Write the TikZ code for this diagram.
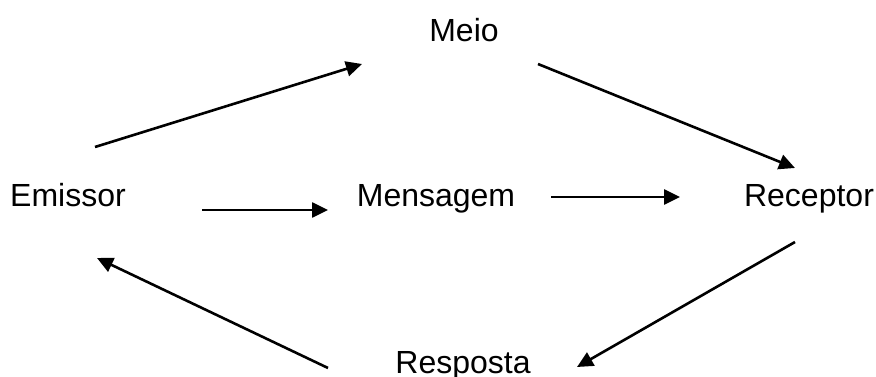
\documentclass[tikz,border=0pt]{standalone}
\usepackage{fontspec}
\setmainfont{Liberation Sans}
\usetikzlibrary{arrows.meta}
\begin{document}
\begin{tikzpicture}[x=1pt,y=-1pt,line join = round,>={Triangle[length=16pt,width=15pt]},font=\fontsize{32}{38}\selectfont,
		word/.style={inner sep=0pt,text height=23pt,text depth=7pt,anchor=base},
		arr/.style={->,line width=2.6pt}]
			\useasboundingbox (0,0) rectangle (876,377);
			\node[word] (meio) at (464,42) {Meio};
			\node[word] (emissor) at (68,207) {Emissor};
			\node[word] (mensagem) at (436,207) {Mensagem};
			\node[word] (receptor) at (809,207) {Receptor};
			\node[word] (resposta) at (463,373) {Resposta};
			\draw[arr] ([shift={(27,-52)}]emissor.center) -- ([shift={(-102,30)}]meio.center);
			\draw[arr] ([shift={(74,30)}]meio.center) -- ([shift={(-14,-31)}]receptor.center);
			\draw[arr] ([shift={(134,11)}]emissor.center) -- ([shift={(-108,11)}]mensagem.center);
			\draw[arr] ([shift={(115,-2)}]mensagem.center) -- ([shift={(-129,-2)}]receptor.center);
			\draw[arr] ([shift={(-14,43)}]receptor.center) -- ([shift={(114,2)}]resposta.center);
			\draw[arr] ([shift={(-135,3)}]resposta.center) -- ([shift={(29,59)}]emissor.center);
		\end{tikzpicture}
\end{document}
